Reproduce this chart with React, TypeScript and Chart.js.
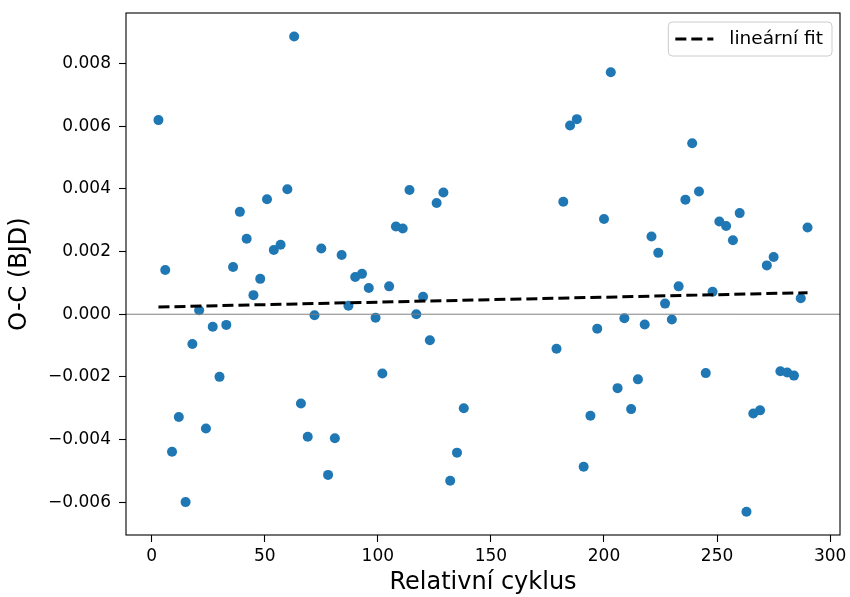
import { useEffect, useRef } from "react";
import { Chart, registerables } from "chart.js";
Chart.register(...registerables);

const CYCLES = [
  3, 6, 9, 12, 15, 18, 21, 24, 27, 30, 33, 36, 39, 42, 45, 48, 51, 54, 57, 60,
  63, 66, 69, 72, 75, 78, 81, 84, 87, 90, 93, 96, 99, 102, 105, 108, 111, 114,
  117, 120, 123, 126, 129, 132, 135, 138,
  179, 182, 185, 188, 191, 194, 197, 200, 203, 206, 209, 212, 215, 218, 221,
  224, 227, 230, 233, 236, 239, 242, 245, 248, 251, 254, 257, 260, 263, 266,
  269, 272, 275, 278, 281, 284, 287, 290,
];

const OC = [
  0.0062, 0.00141, -0.00439, -0.00328, -0.006, -0.00095, 0.00013, -0.00365,
  -0.0004, -0.002, -0.00034, 0.00151, 0.00327, 0.00241, 0.00061, 0.00113,
  0.00367, 0.00205, 0.00222, 0.00399, 0.00887, -0.00285, -0.00391, -0.00003,
  0.0021, -0.00513, -0.00396, 0.00189, 0.00027, 0.00119, 0.00129, 0.00084,
  -0.00011, -0.00189, 0.00089, 0.0028, 0.00274, 0.00397, 0.0, 0.00056,
  -0.00083, 0.00355, 0.00389, -0.00532, -0.00442, -0.003,
  -0.0011, 0.00359, 0.00603, 0.00623, -0.00487, -0.00324, -0.00046, 0.00304,
  0.00773, -0.00236, -0.00013, -0.00303, -0.00208, -0.00033, 0.00248, 0.00196,
  0.00034, -0.00017, 0.00089, 0.00366, 0.00546, 0.00392, -0.00188, 0.00072,
  0.00296, 0.00282, 0.00236, 0.00323, -0.00631, -0.00317, -0.00307, 0.00156,
  0.00183, -0.00182, -0.00186, -0.00196, 0.00051, 0.00277,
];

const FIT_INTERCEPT = 0.000227;
const FIT_SLOPE = 1.589e-6;
const FIT_LABEL = "lineární fit";

const X_TICKS = [0, 50, 100, 150, 200, 250, 300];
const Y_TICKS = [-0.006, -0.004, -0.002, 0, 0.002, 0.004, 0.006, 0.008];
const X_RANGE = [-11.35, 304.35];
const Y_RANGE = [-0.00705, 0.00962];
const X_LABEL = "Relativní cyklus";
const Y_LABEL = "O-C (BJD)";

const FONT = '"DejaVu Sans", "Liberation Sans", sans-serif';
const BLUE = "#1f77b4";

const decor = {
  id: "decor",
  afterDatasetsDraw(chart: any) {
    const { ctx, chartArea: a, scales } = chart;
    const py = scales.y.getPixelForValue(0);
    ctx.save();
    ctx.strokeStyle = "#808080";
    ctx.lineWidth = 1;
    ctx.beginPath();
    ctx.moveTo(a.left, py);
    ctx.lineTo(a.right, py);
    ctx.stroke();
    ctx.restore();
  },
  afterDraw(chart: any) {
    const { ctx, chartArea: a } = chart;
    ctx.save();
    ctx.strokeStyle = "#000";
    ctx.lineWidth = 1.1;
    ctx.strokeRect(a.left, a.top, a.right - a.left, a.bottom - a.top);
    const ds = chart.data.datasets[1];
    ctx.font = `18.5px ${FONT}`;
    const tw = ctx.measureText(ds.label).width;
    const w = 61 + tw + 9;
    const h = 34;
    const right = a.right - 8;
    const top = a.top + 9;
    const left = right - w;
    ctx.beginPath();
    ctx.roundRect(left, top, w, h, 4);
    ctx.fillStyle = "rgba(255,255,255,0.8)";
    ctx.fill();
    ctx.strokeStyle = "#cccccc";
    ctx.lineWidth = 1;
    ctx.stroke();
    const cy = top + h / 2;
    ctx.strokeStyle = ds.borderColor;
    ctx.lineWidth = ds.borderWidth;
    ctx.setLineDash(ds.borderDash);
    ctx.beginPath();
    ctx.moveTo(left + 7, cy);
    ctx.lineTo(left + 45, cy);
    ctx.stroke();
    ctx.setLineDash([]);
    ctx.fillStyle = "#000";
    ctx.textBaseline = "middle";
    ctx.textAlign = "left";
    ctx.fillText(ds.label, left + 61, cy);
    ctx.restore();
  },
};

export default function App() {
  const ref = useRef<HTMLCanvasElement>(null);
  useEffect(() => {
    document.body.style.margin = "0";
    const points = CYCLES.map((c, i) => ({ x: c, y: OC[i] }));
    const x0 = CYCLES[0];
    const x1 = CYCLES[CYCLES.length - 1];
    const fit = [
      { x: x0, y: FIT_INTERCEPT + FIT_SLOPE * x0 },
      { x: x1, y: FIT_INTERCEPT + FIT_SLOPE * x1 },
    ];
    const chart = new Chart(ref.current!, {
      type: "scatter",
      data: {
        datasets: [
          {
            label: "data",
            data: points,
            backgroundColor: BLUE,
            borderWidth: 0,
            pointRadius: 5,
            pointHoverRadius: 5,
            order: 1,
          },
          {
            label: FIT_LABEL,
            data: fit,
            showLine: true,
            borderColor: "#000",
            borderWidth: 3,
            borderDash: [11, 5],
            pointRadius: 0,
            fill: false,
            order: 0,
          } as any,
        ],
      },
      options: {
        responsive: false,
        animation: false,
        devicePixelRatio: 1,
        layout: { padding: { top: 13, right: 10, left: 0, bottom: 0 } },
        plugins: { legend: { display: false }, tooltip: { enabled: false } },
        scales: {
          x: {
            type: "linear",
            min: X_RANGE[0],
            max: X_RANGE[1],
            afterBuildTicks: (s: any) => {
              s.ticks = X_TICKS.map((v) => ({ value: v }));
            },
            afterFit: (s: any) => {
              s.height = 62;
              s.paddingLeft = 0;
              s.paddingRight = 0;
              s.paddingTop = 0;
              s.paddingBottom = 0;
            },
            grid: {
              drawOnChartArea: false,
              drawTicks: true,
              tickLength: 7,
              tickColor: "#000",
              tickWidth: 1.1,
            },
            border: { display: false },
            ticks: {
              color: "#000",
              font: { family: FONT, size: 17 },
              padding: 4,
              maxRotation: 0,
              autoSkip: false,
              callback: (v: any) => String(v),
            },
            title: {
              display: true,
              text: X_LABEL,
              color: "#000",
              font: { family: FONT, size: 24, lineHeight: 1.2 },
              padding: { top: 0, bottom: 0 },
            },
          },
          y: {
            type: "linear",
            min: Y_RANGE[0],
            max: Y_RANGE[1],
            afterBuildTicks: (s: any) => {
              s.ticks = Y_TICKS.map((v) => ({ value: v }));
            },
            afterFit: (s: any) => {
              s.width = 126;
              s.paddingLeft = 0;
              s.paddingRight = 0;
              s.paddingTop = 0;
              s.paddingBottom = 0;
            },
            grid: {
              drawOnChartArea: false,
              drawTicks: true,
              tickLength: 7,
              tickColor: "#000",
              tickWidth: 1.1,
            },
            border: { display: false },
            ticks: {
              color: "#000",
              font: { family: FONT, size: 17 },
              padding: 8,
              autoSkip: false,
              callback: (v: any) => {
                const s = Math.abs(v).toFixed(3);
                return v < -1e-12 ? "\u2212" + s : s;
              },
            },
            title: {
              display: true,
              text: Y_LABEL,
              color: "#000",
              font: { family: FONT, size: 24, lineHeight: 1.2 },
              padding: { top: 5, bottom: 0 },
            },
          },
        },
      },
      plugins: [decor],
    });
    return () => chart.destroy();
  }, []);
  return (
    <div style={{ width: 850, height: 597 }}>
      <canvas ref={ref} width={850} height={597} />
    </div>
  );
}
